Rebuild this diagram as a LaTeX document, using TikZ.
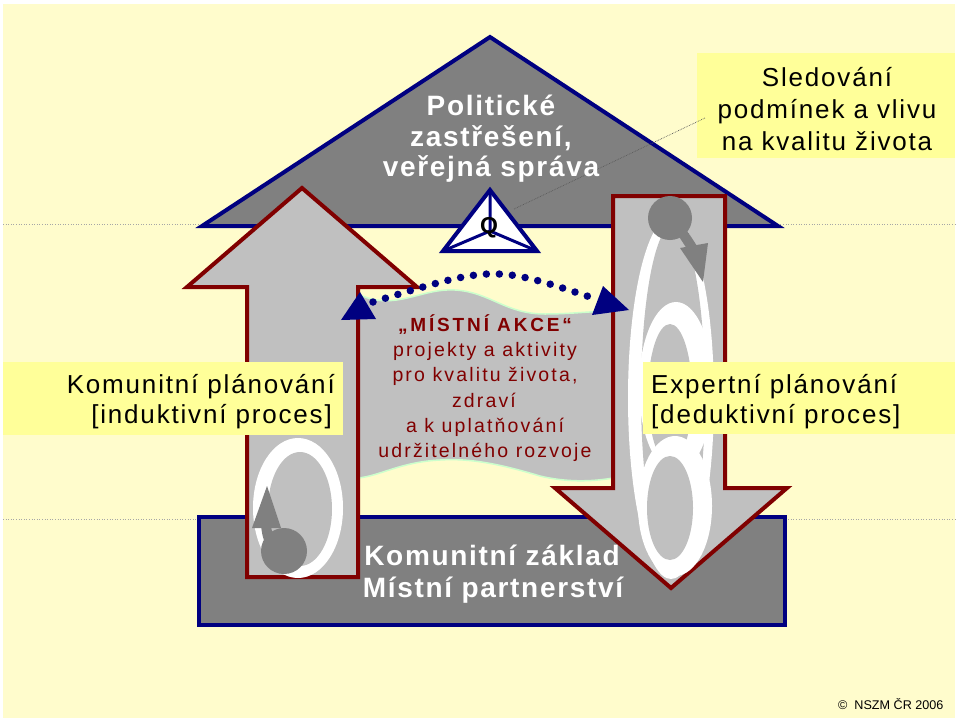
\documentclass[tikz,border=0pt]{standalone}
\usepackage{fontspec}
\setmainfont{Liberation Sans}
\newfontfamily\lblfont[LetterSpace=7]{Liberation Sans}
\newfontfamily\rooffont[LetterSpace=6]{Liberation Sans}
\newfontfamily\midfont[LetterSpace=11]{Liberation Sans}
\newfontfamily\titlefont[LetterSpace=15]{Liberation Sans}
\newfontfamily\plainfont{Liberation Sans}
\definecolor{bgY}{RGB}{255,252,204}
\definecolor{labelY}{RGB}{255,255,153}
\definecolor{navyc}{RGB}{0,0,128}
\definecolor{maroonc}{RGB}{128,0,0}
\definecolor{silverc}{RGB}{192,192,192}
\definecolor{midgray}{RGB}{128,128,128}
\definecolor{lgreen}{RGB}{204,255,204}
\begin{document}
\begin{tikzpicture}[x=1pt,y=-1pt,
  guide/.style={draw=black!35, line width=0.6pt, dotted},
  leaderline/.style={draw=black!65, line width=0.7pt, densely dotted},
  bigarrow/.style={fill=silverc, draw=maroonc, line width=4pt, line join=miter},
  navyshape/.style={fill=midgray, draw=navyc, line width=4pt, line join=miter},
  lbl/.style={font=\lblfont\fontsize{26}{30}\selectfont, text=black, inner sep=0pt},
  rooftxt/.style={font=\rooffont\bfseries\fontsize{28}{30}\selectfont, text=white, inner sep=0pt},
  midtxt/.style={font=\midfont\fontsize{19.5}{25}\selectfont, text=maroonc, inner sep=0pt},
  dotarc/.style={draw=navyc, line width=7.5pt, line cap=round, dash pattern=on 0pt off 13pt}
]
\useasboundingbox (0,0) rectangle (960,723);
\fill[white] (0,0) rectangle (960,723);
\fill[bgY] (3,4) rectangle (955,718);
% guide lines
\draw[guide] (3,224) -- (955,224);
\draw[guide] (3,519) -- (955,519);
% roof
\filldraw[navyshape] (490,37) -- (778,226) -- (202,226) -- cycle;
% bottom box
\filldraw[navyshape] (199,517) rectangle (785,625);
% wave
\filldraw[fill=silverc, draw=lgreen, line width=1.5pt]
  (358,294) .. controls (395,312) and (420,288) .. (455,290)
  .. controls (490,292) and (505,314) .. (545,314)
  .. controls (575,314) and (600,310) .. (613,312)
  -- (613,478) .. controls (590,482) and (565,482) .. (540,476)
  .. controls (500,464) and (470,458) .. (440,460)
  .. controls (400,462) and (380,476) .. (358,478) -- cycle;
% arrows
\filldraw[bigarrow] (302,188) -- (417,287) -- (358,287) -- (358,577) -- (247,577) -- (247,287) -- (187,287) -- cycle;
\filldraw[bigarrow] (613,196) -- (725,196) -- (725,488) -- (787,488) -- (671,588) -- (555,488) -- (613,488) -- cycle;
% left loop
\fill[white] (298,508) ellipse [x radius=45pt, y radius=70pt];
\fill[silverc] (300,509) ellipse [x radius=32pt, y radius=57pt];
\fill[midgray] (284,551) circle [radius=23pt];
\draw[midgray, line width=10pt] (266,524) .. controls (267,540) and (272,548) .. (280,552);
\fill[midgray] (267,486) -- (281,528) -- (252,528) -- cycle;
% right loops
\fill[white] (671,398) ellipse [x radius=43pt, y radius=181pt];
\fill[silverc] (673,395) ellipse [x radius=32pt, y radius=170pt];
\fill[white] (676,387) ellipse [x radius=37pt, y radius=85pt];
\fill[silverc] (670,394) ellipse [x radius=22pt, y radius=70pt];
\fill[white] (675,506) ellipse [x radius=37pt, y radius=70pt];
\fill[silverc] (670,508) ellipse [x radius=23pt, y radius=52pt];
\fill[midgray] (670,218) circle [radius=22pt];
\draw[midgray, line width=10pt] (682,232) -- (693,249);
\fill[midgray] (680,248) -- (708,243) -- (703,282) -- cycle;
% label boxes
\fill[labelY] (697,53) rectangle (955,158);
\fill[labelY] (3,362) rectangle (343,435);
\fill[labelY] (643,362) rectangle (955,434);
% Q triangle
\filldraw[fill=white, draw=navyc, line width=4pt, line join=miter] (490,190) -- (537,251) -- (443,251) -- cycle;
\draw[navyc, line width=3pt] (490,190) -- (490,231) (443,251) -- (490,231) -- (537,251);
\node[font=\plainfont\bfseries\fontsize{23}{26}\selectfont, inner sep=0pt] (q) at (489,228) {Q};
% leader line
\coordinate (leadA) at (514,209);
\coordinate (leadB) at (705,118);
\draw[leaderline] (leadA) -- (leadB);
% dotted arc with heads
\coordinate (arcL) at (373,302);
\coordinate (arcR) at (596,299);
\draw[dotarc] (arcL) .. controls (494,265) .. (arcR);
\fill[navyc] (360,292) -- (376,319) -- (341,320) -- cycle;
\fill[navyc] (603,286) -- (629,310) -- (592,315) -- cycle;
% texts: sign
\node[lbl, anchor=base] (s1) at (827,86) {Sledování};
\node[lbl, anchor=base] (s2) at (827,118) {podmínek a vlivu};
\node[lbl, anchor=base] (s3) at (827,150) {na kvalitu života};
% left label
\node[lbl, anchor=base east] (k1) at (335,393) {Komunitní plánování};
\node[lbl, anchor=base east] (k2) at (332,423) {[induktivní proces]};
% right label
\node[lbl, anchor=base west] (e1) at (651,393) {Expertní plánování};
\node[lbl, anchor=base west] (e2) at (651,423) {[deduktivní proces]};
% roof text
\node[rooftxt, anchor=base] (r1) at (491,115) {Politické};
\node[rooftxt, anchor=base] (r2) at (491,146) {zastřešení,};
\node[rooftxt, anchor=base] (r3) at (491,176) {veřejná správa};
% bottom text
\node[rooftxt, anchor=base] (b1) at (492,565) {Komunitní základ};
\node[rooftxt, anchor=base] (b2) at (493,597) {Místní partnerství};
% middle text
\node[midtxt, anchor=base, font=\titlefont\bfseries\fontsize{19}{25}\selectfont] (m1) at (485,331) {„MÍSTNÍ AKCE“};
\node[midtxt, anchor=base] (m2) at (485,356) {projekty a aktivity};
\node[midtxt, anchor=base] (m3) at (485,381.5) {pro kvalitu života,};
\node[midtxt, anchor=base] (m4) at (484,407) {zdraví};
\node[midtxt, anchor=base] (m5) at (485,432) {a k uplatňování};
\node[midtxt, anchor=base] (m6) at (485,457.5) {udržitelného rozvoje};
% copyright
\node[font=\plainfont\fontsize{12.6}{14}\selectfont, anchor=base west, inner sep=0pt] (c) at (838,709) {©\ \ NSZM ČR 2006};
\end{tikzpicture}
\end{document}
